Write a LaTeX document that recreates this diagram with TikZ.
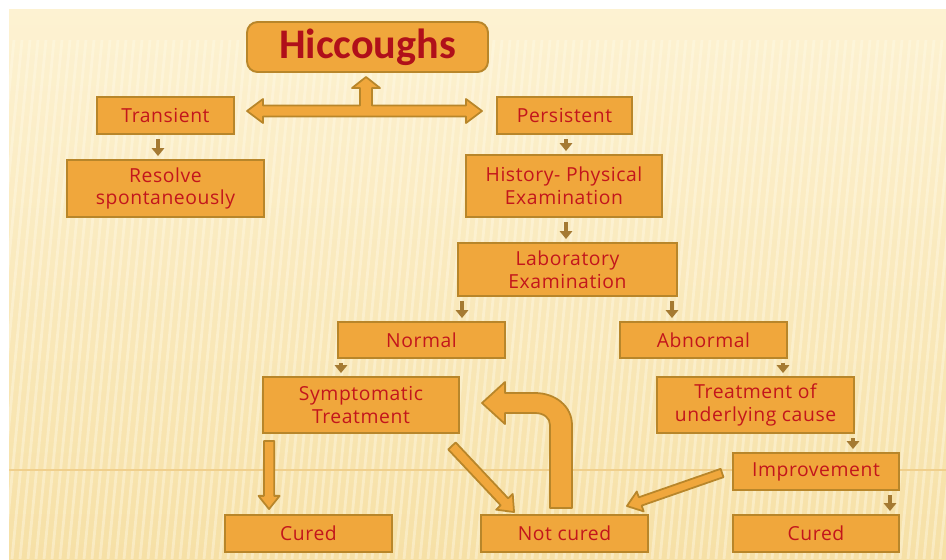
\documentclass[tikz,border=0pt]{standalone}
\usepackage{fontspec}
\setmainfont{Open Sans}[LetterSpace=3.0]
\newfontfamily\titlefont{Carlito}
\usetikzlibrary{calc,arrows.meta}

% Block arrow between two named coordinates: start, end, shaft half width, head half width, head length
\newcommand{\blockarrow}[5]{%
    \coordinate (ba-h) at ($(#2)!#5!(#1)$);
    \filldraw[bigarr] ($(#1)!#3!90:(#2)$) -- ($(ba-h)!#3!90:(#2)$) -- ($(ba-h)!#4!90:(#2)$) -- (#2)
        -- ($(ba-h)!#4!-90:(#2)$) -- ($(ba-h)!#3!-90:(#2)$) -- ($(#1)!#3!-90:(#2)$) -- cycle;
}

\begin{document}
\begin{tikzpicture}[x=0.02cm, y=-0.02cm,
    box/.style={draw=borderColour, fill=fillColour, line width=1.1pt, inner sep=0pt,
        align=center, text=textColour, font=\fontsize{11}{13}\selectfont},
    smallarr/.style={draw=stemColour, line width=2.4pt, -{Triangle[width=7pt,length=4.5pt]},
        shorten <=2.3pt, shorten >=1.7pt},
    bigarr/.style={fill=fillColour, draw=borderColour, line width=1pt, line join=round},
    stripe/.style={draw=stripeColour, line width=1.6pt, opacity=0.4}]
    % Define colours
    \definecolor{borderColour}{HTML}{B8862A}
    \definecolor{fillColour}{HTML}{F0A73C}
    \definecolor{textColour}{HTML}{C3161C}
    \definecolor{titleColour}{HTML}{B0101A}
    \definecolor{stemColour}{HTML}{A57A32}
    \definecolor{bgTop}{HTML}{FDF2D2}
    \definecolor{bgBottom}{HTML}{F6E0A6}
    \definecolor{stripeColour}{HTML}{FFFBEA}
    \definecolor{lineColour}{HTML}{F0CF8C}

    % Background
    \useasboundingbox (0,0) rectangle (946,559);
    \fill[white] (0,0) rectangle (946,559);
    \shade[top color=bgTop, bottom color=bgBottom] (9,9) rectangle (946,559);
    \begin{scope}
        \clip (9,40) rectangle (946,559);
        \foreach \x in {-60,-52,...,1000}
            \draw[stripe] (\x,559) -- (\x+50,40);
    \end{scope}
    \draw[lineColour, line width=0.6pt] (9,470) -- (946,470);

    % Boxes
    \node[box, rounded corners=6pt, minimum width=4.82cm, minimum height=1.0cm, text=titleColour,
        font=\titlefont\bfseries\fontsize{24}{28}\selectfont] (hic) at (367.5,47) {Hiccoughs};
    \node[box, minimum width=2.74cm, minimum height=0.74cm] (trans) at (165.5,115.5) {Transient};
    \node[box, minimum width=2.70cm, minimum height=0.74cm] (pers) at (564.5,115.5) {Persistent};
    \node[box, minimum width=3.94cm, minimum height=1.14cm] (resolve) at (165.5,188.5) {Resolve\\spontaneously};
    \node[box, minimum width=3.92cm, minimum height=1.24cm] (hist) at (564,186) {History- Physical\\Examination};
    \node[box, minimum width=4.38cm, minimum height=1.06cm] (lab) at (567.5,269.5) {Laboratory\\Examination};
    \node[box, minimum width=3.34cm, minimum height=0.72cm] (norm) at (421.5,340) {Normal};
    \node[box, minimum width=3.34cm, minimum height=0.72cm] (abn) at (703.5,340) {Abnormal};
    \node[box, minimum width=3.92cm, minimum height=1.12cm] (symp) at (361,405) {Symptomatic\\Treatment};
    \node[box, minimum width=3.94cm, minimum height=1.12cm] (under) at (755.5,405) {Treatment of\\underlying cause};
    \node[box, minimum width=3.32cm, minimum height=0.74cm] (impr) at (816,471.5) {Improvement};
    \node[box, minimum width=3.34cm, minimum height=0.74cm] (curedL) at (308.5,533.5) {Cured};
    \node[box, minimum width=3.34cm, minimum height=0.74cm] (notc) at (564.5,533.5) {Not cured};
    \node[box, minimum width=3.32cm, minimum height=0.74cm] (curedR) at (816,533.5) {Cured};

    % Small arrows
    \draw[smallarr] (trans.south -| 158,0) -- (resolve.north -| 158,0);
    \draw[smallarr] (pers.south -| 566,0) -- (hist.north -| 566,0);
    \draw[smallarr] (hist.south -| 566,0) -- (lab.north -| 566,0);
    \draw[smallarr] (lab.south -| 462,0) -- (norm.north -| 462,0);
    \draw[smallarr] (lab.south -| 672,0) -- (abn.north -| 672,0);
    \draw[smallarr] (norm.south -| 341,0) -- (symp.north -| 341,0);
    \draw[smallarr] (abn.south -| 783,0) -- (under.north -| 783,0);
    \draw[smallarr] (under.south -| 853,0) -- (impr.north -| 853,0);
    \draw[smallarr] (impr.south -| 890,0) -- (curedR.north -| 890,0);

    % Double arrow with stem up to the title
    \filldraw[bigarr] (247,111) -- (263,99) -- (263,105.5) -- (360,105.5) -- (360,88) -- (352,88)
        -- (366,77) -- (380,88) -- (372,88) -- (372,105.5) -- (466,105.5) -- (466,99) -- (482,111)
        -- (466,123) -- (466,116.5) -- (263,116.5) -- (263,123) -- cycle;

    % Block arrows
    \coordinate (sc1) at ($(symp.south west)+(7,7)$);
    \coordinate (sc2) at ($(curedL.north west)+(45,-5)$);
    \blockarrow{sc1}{sc2}{2.9pt}{6pt}{7.5pt}
    \coordinate (sn1) at ($(symp.south east)+(-8,12)$);
    \coordinate (sn2) at ($(notc.north west)+(34,-2)$);
    \blockarrow{sn1}{sn2}{2.9pt}{6.5pt}{8pt}
    \coordinate (in1) at ($(impr.west)+(-10,1.5)$);
    \coordinate (in2) at ($(notc.north east)+(-22,-8)$);
    \blockarrow{in1}{in2}{2.5pt}{6pt}{8pt}

    % Loop back from Not cured
    \filldraw[bigarr] (550,508) -- (572,508) -- (572,425) .. controls (572,406) and (555,393) .. (535,393)
        -- (505,393) -- (505,382) -- (482,403) -- (505,424) -- (505,413) -- (535,413)
        .. controls (544,413) and (550,418) .. (550,425) -- cycle;

\end{tikzpicture}
\end{document}
